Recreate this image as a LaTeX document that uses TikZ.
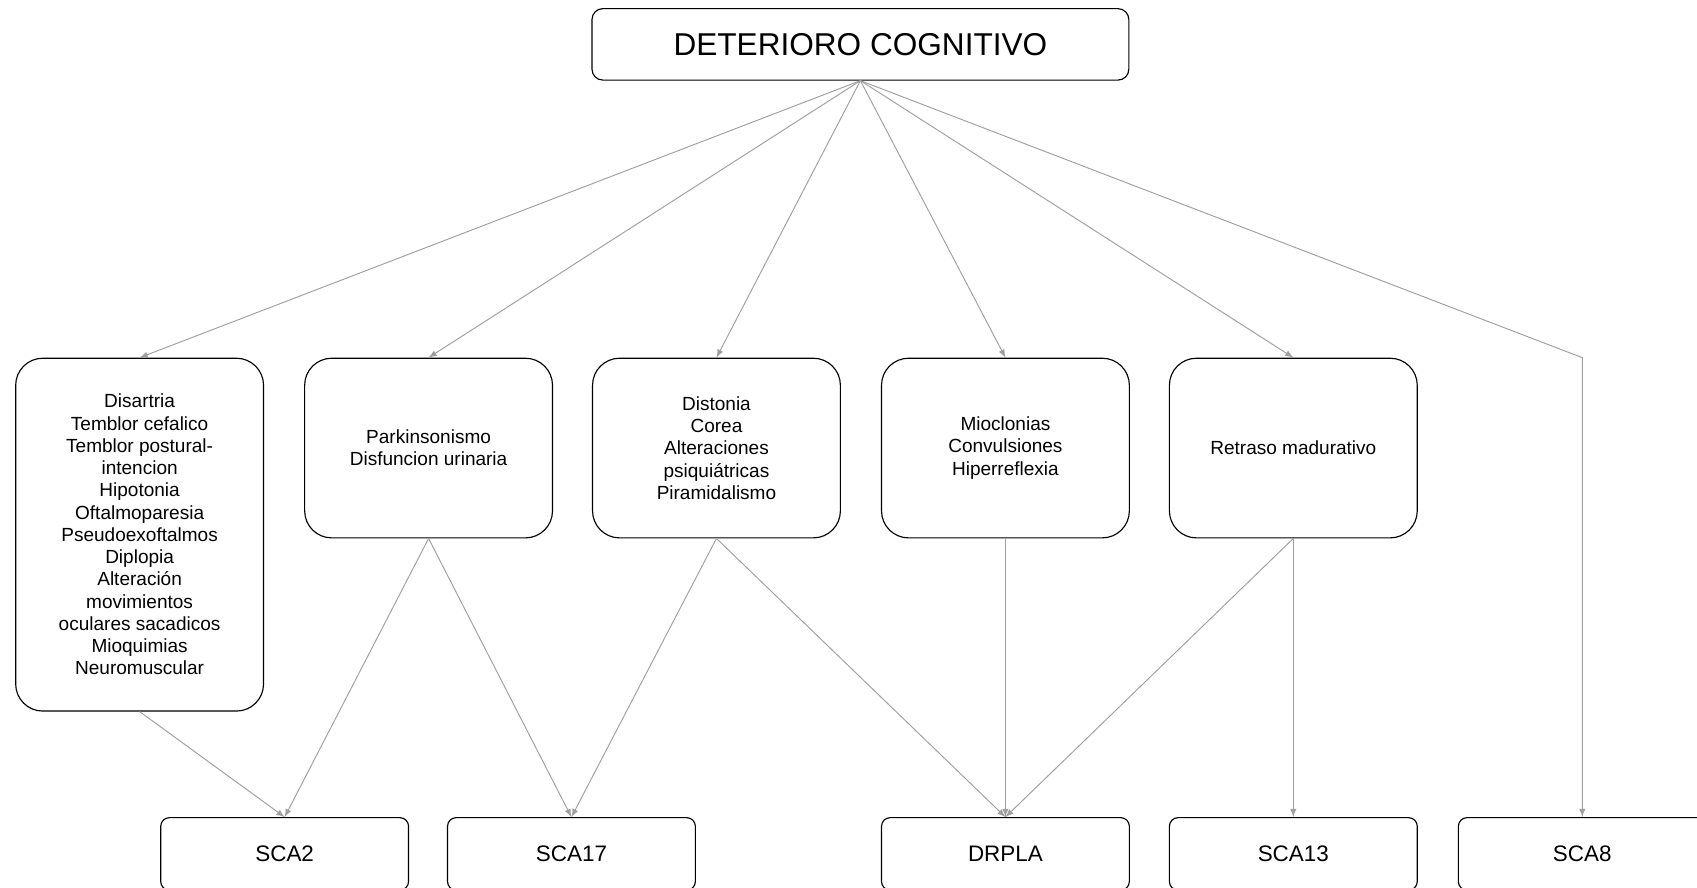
\documentclass[tikz,border=0pt]{standalone}
\usepackage{fontspec}
\setmainfont{Liberation Sans}
\begin{document}
\begin{tikzpicture}[x=0.2mm, y=-0.2mm]
    \tikzset{>=latex}
    \tikzset{caja/.style={draw, line width=0.6pt, rounded corners=5mm, align=center, inner sep=0pt,
        minimum width=45.8mm, minimum height=33.2mm, font=\fontsize{10}{11.7}\selectfont},
      final/.style={draw, line width=0.6pt, rounded corners=1.6mm, inner sep=0pt,
        minimum width=45.8mm, minimum height=13.4mm, font=\fontsize{11.8}{14}\selectfont},
      flecha/.style={->, draw=gray!75, line width=0.5pt}}
    \useasboundingbox (0,0) rectangle (1568,820);
    \node [draw, line width=0.6pt, rounded corners=2mm, minimum width=99.2mm, minimum height=13.2mm,
      font=\fontsize{16.6}{20}\selectfont] (deterioro) at (795,41) {DETERIORO COGNITIVO};
    % sintomas
    \node [caja, minimum height=65.2mm] (disartria) at (129,494) {Disartria\\Temblor cefalico\\Temblor postural-\\intencion\\Hipotonia\\Oftalmoparesia\\Pseudoexoftalmos\\Diplopia\\Alteración\\movimientos\\oculares sacadicos\\Mioquimias\\Neuromuscular};
    \node [caja] (parkinson) at (396,414) {Parkinsonismo\\Disfuncion urinaria};
    \node [caja] (distonia) at (662,414) {Distonia\\Corea\\Alteraciones\\psiquiátricas\\Piramidalismo};
    \node [caja] (mioclonias) at (929,414) {Mioclonias\\Convulsiones\\Hiperreflexia};
    \node [caja] (retraso) at (1195,414) {Retraso madurativo};
    % ataxias
    \node [final] (sca2) at (263,789) {SCA2};
    \node [final] (sca17) at (528,789) {SCA17};
    \node [final] (drpla) at (929,789) {DRPLA};
    \node [final] (sca13) at (1195,789) {SCA13};
    \node [final] (sca8) at (1462,789) {SCA8};
    \foreach \n in {disartria, parkinson, distonia, mioclonias, retraso}
      \draw [flecha] (deterioro.south) -- (\n.north);
    \draw [flecha] (deterioro.south) -- (sca8.north |- retraso.north) -- (sca8.north);
    \draw [flecha] (disartria.south) -- (sca2.north);
    \draw [flecha] (parkinson.south) -- (sca2.north);
    \draw [flecha] (parkinson.south) -- (sca17.north);
    \draw [flecha] (distonia.south) -- (sca17.north);
    \draw [flecha] (distonia.south) -- (drpla.north);
    \draw [flecha] (mioclonias.south) -- (drpla.north);
    \draw [flecha] (retraso.south) -- (drpla.north);
    \draw [flecha] (retraso.south) -- (sca13.north);
\end{tikzpicture}
\end{document}
